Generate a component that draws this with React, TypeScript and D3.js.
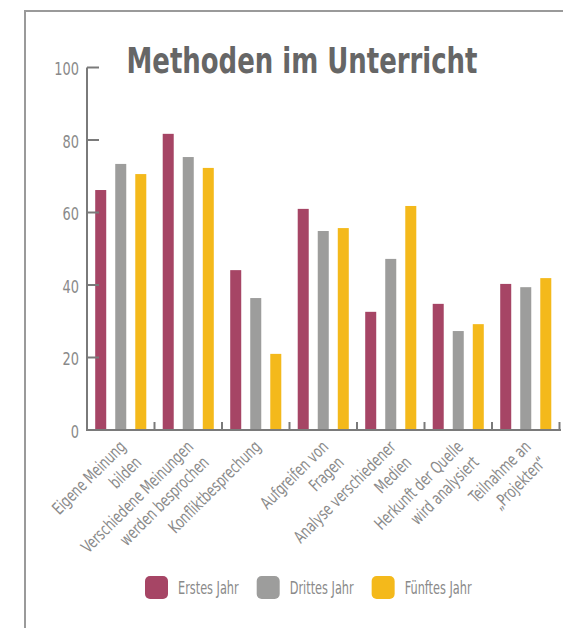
import React, { useEffect, useRef } from 'react'
import * as d3 from 'd3'

// categories (x axis), line breaks marked with \n
const categories = [
    'Eigene Meinung\nbilden',
    'Verschiedene Meinungen\nwerden besprochen',
    'Konfliktbesprechung',
    'Aufgreifen von\nFragen',
    'Analyse verschiedener\nMedien',
    'Herkunft der Quelle\nwird analysiert',
    'Teilnahme an\n„Projekten“',
]
const seriesNames = ['Erstes Jahr', 'Drittes Jahr', 'Fünftes Jahr']
const erstesJahr = [66.2, 81.7, 44.1, 61.0, 32.6, 34.8, 40.3]
const drittesJahr = [73.4, 75.3, 36.4, 54.9, 47.2, 27.3, 39.4]
const fuenftesJahr = [70.6, 72.3, 21.0, 55.7, 61.8, 29.2, 41.9]
const yTicks = [0, 20, 40, 60, 80, 100]
const title = 'Methoden im Unterricht'

const colors = ['#a64565', '#9d9d9c', '#f4b91b']
const FONT = "'DejaVu Sans Condensed', 'Liberation Sans Narrow', Roboto, sans-serif"

export default function App() {
    const ref = useRef<SVGSVGElement>(null)

    useEffect(() => {
        const W = 563, H = 628
        const svg = d3.select(ref.current)
        svg.selectAll('*').remove()

        const values = [erstesJahr, drittesJahr, fuenftesJahr]

        //outer frame (left + top edge only)
        svg.append('path')
            .attr('d', `M25,${H} L25,11 L${W},11`)
            .attr('fill', 'none')
            .attr('stroke', '#9a9a9a')
            .attr('stroke-width', 2)

        //title
        svg.append('text')
            .attr('x', 302).attr('y', 73)
            .attr('text-anchor', 'middle')
            .attr('font-family', FONT)
            .attr('font-weight', 'bold')
            .attr('font-size', 35)
            .attr('fill', '#666')
            .attr('textLength', 351)
            .attr('lengthAdjust', 'spacingAndGlyphs')
            .text(title)

        const x = d3.scaleBand().domain(categories).range([87, 559.5])
        const xs = d3.scaleBand().domain(seriesNames)
            .range([0, x.bandwidth()]).paddingInner(0.45).paddingOuter(0.41)
        const y = d3.scaleLinear().domain([0, 100]).range([430, 67.5])

        //bars
        seriesNames.forEach((s, si) => {
            svg.append('g').selectAll('rect')
                .data(values[si])
                .enter().append('rect')
                .attr('x', (d, i) => x(categories[i])! + xs(s)!)
                .attr('y', d => y(d))
                .attr('width', xs.bandwidth())
                .attr('height', d => y(0) - y(d))
                .attr('fill', colors[si])
        })

        const axisColor = '#7a7a7a'
        const textColor = '#8a8a8a'
        //y axis
        const ya = svg.append('g')
        ya.append('line')
            .attr('x1', 87).attr('x2', 87)
            .attr('y1', y(100)).attr('y2', y(0))
            .attr('stroke', axisColor).attr('stroke-width', 2)
        ya.selectAll('.tick').data(yTicks.filter(t => t > 0)).enter()
            .append('line')
            .attr('x1', 87).attr('x2', 99)
            .attr('y1', d => y(d)).attr('y2', d => y(d))
            .attr('stroke', axisColor).attr('stroke-width', 2)
        ya.selectAll('text').data(yTicks).enter()
            .append('text')
            .attr('transform', d => `translate(79,${y(d) + 1.5}) scale(0.8,1)`)
            .attr('dy', '0.36em')
            .attr('text-anchor', 'end')
            .attr('font-family', FONT)
            .attr('font-size', 18)
            .attr('fill', textColor)
            .text(d => d)

        //x axis baseline + separators
        const xa = svg.append('g')
        xa.append('line')
            .attr('x1', 86).attr('x2', 561)
            .attr('y1', y(0)).attr('y2', y(0))
            .attr('stroke', axisColor).attr('stroke-width', 2)
        xa.selectAll('.sep').data(categories).enter()
            .append('line')
            .attr('x1', d => x(d)! + x.bandwidth()).attr('x2', d => x(d)! + x.bandwidth())
            .attr('y1', y(0)).attr('y2', y(0) - 8)
            .attr('stroke', axisColor).attr('stroke-width', 2)

        //rotated category labels
        const lab = xa.selectAll('.lab').data(categories).enter()
            .append('text')
            .attr('transform', d => `translate(${x(d)! + x.bandwidth() / 2 + 6},448) rotate(-45) scale(0.78,1)`)
            .attr('text-anchor', 'end')
            .attr('font-family', FONT)
            .attr('font-size', 17)
            .attr('fill', textColor)
        lab.each(function (d) {
            const t = d3.select(this)
            d.split('\n').forEach((line, i) => {
                t.append('tspan').attr('x', 0).attr('y', i * 22).text(line)
            })
        })

        //legend
        const lg = svg.append('g')
        const k = 0.7
        let lx = 145
        seriesNames.forEach((s, i) => {
            lg.append('rect')
                .attr('x', lx).attr('y', 576)
                .attr('width', 23).attr('height', 23)
                .attr('rx', 5)
                .attr('fill', colors[i])
            const t = lg.append('text')
                .attr('transform', `translate(${lx + 33},593.5) scale(${k},1)`)
                .attr('font-family', FONT)
                .attr('font-size', 18)
                .attr('fill', textColor)
                .text(s)
            lx += 33 + (t.node() as SVGTextElement).getComputedTextLength() * k + 18
        })
    }, [])

    return (
        <svg ref={ref} width={563} height={628}
            style={{ position: 'absolute', left: 0, top: 0, background: '#fff' }} />
    )
}
